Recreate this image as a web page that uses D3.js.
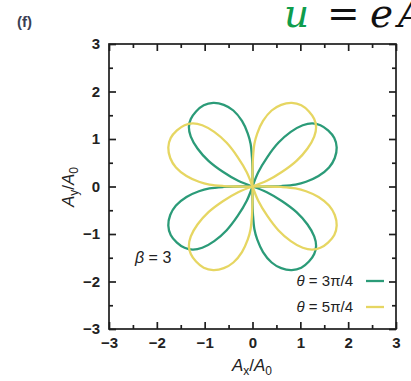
<!DOCTYPE html>
<html>
<head>
<meta charset="utf-8">
<script src="https://cdn.jsdelivr.net/npm/d3@7"></script>
<style>
  html, body { margin: 0; padding: 0; background: #fff; }
  svg { display: block; }
  text { font-family: "Liberation Sans", Arial, sans-serif; }
</style>
</head>
<body>
<svg id="chart" width="411" height="381"></svg>
<script>
// Axis ticks and labels
const majorTicks = [-3, -2, -1, 0, 1, 2, 3];
const majorTickLabels = ["\u22123", "\u22122", "\u22121", "0", "1", "2", "3"];
const minorTicks = [-2.5, -1.5, -0.5, 0.5, 1.5, 2.5];

// Series legend: angle value and colour
const seriesAngles = ["3\u03c0/4", "5\u03c0/4"];
const seriesColors = ["#2b9b78", "#e6d662"];

// theta = 3pi/4 : four lobes, each [Ax/A0, Ay/A0] from the origin round and back
const greenLobeUpperLeft = [
  [0, 0], [0.00, 0.30], [-0.01, 0.60], [-0.04, 0.90], [-0.10, 1.12], [-0.22, 1.38],
  [-0.40, 1.60], [-0.60, 1.72], [-0.82, 1.76], [-1.02, 1.71], [-1.18, 1.58],
  [-1.29, 1.42], [-1.33, 1.25], [-1.29, 1.05], [-1.15, 0.80], [-0.92, 0.54],
  [-0.62, 0.31], [-0.30, 0.12], [0, 0]
];
const greenLobeUpperRight = [
  [0, 0], [0.30, 0.00], [0.60, 0.01], [0.90, 0.04], [1.12, 0.10], [1.38, 0.22],
  [1.60, 0.40], [1.72, 0.60], [1.76, 0.82], [1.71, 1.02], [1.58, 1.18],
  [1.42, 1.29], [1.25, 1.33], [1.05, 1.29], [0.80, 1.15], [0.54, 0.92],
  [0.31, 0.62], [0.12, 0.30], [0, 0]
];
const greenLobeLowerRight = [
  [0, 0], [0.00, -0.30], [0.01, -0.60], [0.04, -0.90], [0.10, -1.12], [0.22, -1.38],
  [0.40, -1.60], [0.60, -1.72], [0.82, -1.76], [1.02, -1.71], [1.18, -1.58],
  [1.29, -1.42], [1.33, -1.25], [1.29, -1.05], [1.15, -0.80], [0.92, -0.54],
  [0.62, -0.31], [0.30, -0.12], [0, 0]
];
const greenLobeLowerLeft = [
  [0, 0], [-0.30, 0.00], [-0.60, -0.01], [-0.90, -0.04], [-1.12, -0.10], [-1.38, -0.22],
  [-1.60, -0.40], [-1.72, -0.60], [-1.76, -0.82], [-1.71, -1.02], [-1.58, -1.18],
  [-1.42, -1.29], [-1.25, -1.33], [-1.05, -1.29], [-0.80, -1.15], [-0.54, -0.92],
  [-0.31, -0.62], [-0.12, -0.30], [0, 0]
];

// theta = 5pi/4 : four lobes
const yellowLobeUpperRight = [
  [0, 0], [0.00, 0.30], [0.01, 0.60], [0.04, 0.90], [0.10, 1.12], [0.22, 1.38],
  [0.40, 1.60], [0.60, 1.72], [0.82, 1.76], [1.02, 1.71], [1.18, 1.58],
  [1.29, 1.42], [1.33, 1.25], [1.29, 1.05], [1.15, 0.80], [0.92, 0.54],
  [0.62, 0.31], [0.30, 0.12], [0, 0]
];
const yellowLobeUpperLeft = [
  [0, 0], [-0.30, 0.00], [-0.60, 0.01], [-0.90, 0.04], [-1.12, 0.10], [-1.38, 0.22],
  [-1.60, 0.40], [-1.72, 0.60], [-1.76, 0.82], [-1.71, 1.02], [-1.58, 1.18],
  [-1.42, 1.29], [-1.25, 1.33], [-1.05, 1.29], [-0.80, 1.15], [-0.54, 0.92],
  [-0.31, 0.62], [-0.12, 0.30], [0, 0]
];
const yellowLobeLowerLeft = [
  [0, 0], [0.00, -0.30], [-0.01, -0.60], [-0.04, -0.90], [-0.10, -1.12], [-0.22, -1.38],
  [-0.40, -1.60], [-0.60, -1.72], [-0.82, -1.76], [-1.02, -1.71], [-1.18, -1.58],
  [-1.29, -1.42], [-1.33, -1.25], [-1.29, -1.05], [-1.15, -0.80], [-0.92, -0.54],
  [-0.62, -0.31], [-0.30, -0.12], [0, 0]
];
const yellowLobeLowerRight = [
  [0, 0], [0.30, 0.00], [0.60, -0.01], [0.90, -0.04], [1.12, -0.10], [1.38, -0.22],
  [1.60, -0.40], [1.72, -0.60], [1.76, -0.82], [1.71, -1.02], [1.58, -1.18],
  [1.42, -1.29], [1.25, -1.33], [1.05, -1.29], [0.80, -1.15], [0.54, -0.92],
  [0.31, -0.62], [0.12, -0.30], [0, 0]
];

const series = [
  { angle: seriesAngles[0], color: seriesColors[0],
    lobes: [greenLobeUpperLeft, greenLobeUpperRight, greenLobeLowerRight, greenLobeLowerLeft] },
  { angle: seriesAngles[1], color: seriesColors[1],
    lobes: [yellowLobeUpperRight, yellowLobeUpperLeft, yellowLobeLowerLeft, yellowLobeLowerRight] }
];

const svg = d3.select("#chart");
const plot = { left: 109, right: 396, top: 44, bottom: 329 };

const x = d3.scaleLinear().domain([-3, 3]).range([plot.left, plot.right]);
const y = d3.scaleLinear().domain([-3, 3]).range([plot.bottom, plot.top]);

const axisColor = "#1e1e1e";
const labelFmt = (d) => majorTickLabels[majorTicks.indexOf(d)];

function styleAxis(g) {
  g.select(".domain").remove();
  g.selectAll(".tick line").attr("stroke", axisColor).attr("stroke-width", 1.7);
  g.selectAll(".tick text")
    .attr("fill", "#222")
    .style("font-size", "15px")
    .style("font-weight", "bold");
}

// Major ticks with labels (bottom, left), pointing inward
svg.append("g").attr("transform", `translate(0,${plot.bottom})`)
  .call(d3.axisBottom(x).tickValues(majorTicks).tickFormat(labelFmt).tickSize(-7).tickPadding(8))
  .call(styleAxis);
svg.append("g").attr("transform", `translate(${plot.left},0)`)
  .call(d3.axisLeft(y).tickValues(majorTicks).tickFormat(labelFmt).tickSize(-7).tickPadding(9))
  .call(styleAxis);
// Mirrored major ticks (top, right)
svg.append("g").attr("transform", `translate(0,${plot.top})`)
  .call(d3.axisTop(x).tickValues(majorTicks).tickFormat("").tickSize(-7))
  .call(styleAxis);
svg.append("g").attr("transform", `translate(${plot.right},0)`)
  .call(d3.axisRight(y).tickValues(majorTicks).tickFormat("").tickSize(-7))
  .call(styleAxis);
// Minor ticks on all four sides
svg.append("g").attr("transform", `translate(0,${plot.bottom})`)
  .call(d3.axisBottom(x).tickValues(minorTicks).tickFormat("").tickSize(-4)).call(styleAxis);
svg.append("g").attr("transform", `translate(0,${plot.top})`)
  .call(d3.axisTop(x).tickValues(minorTicks).tickFormat("").tickSize(-4)).call(styleAxis);
svg.append("g").attr("transform", `translate(${plot.left},0)`)
  .call(d3.axisLeft(y).tickValues(minorTicks).tickFormat("").tickSize(-4)).call(styleAxis);
svg.append("g").attr("transform", `translate(${plot.right},0)`)
  .call(d3.axisRight(y).tickValues(minorTicks).tickFormat("").tickSize(-4)).call(styleAxis);

// Frame
svg.append("rect")
  .attr("x", plot.left).attr("y", plot.top)
  .attr("width", plot.right - plot.left).attr("height", plot.bottom - plot.top)
  .attr("fill", "none").attr("stroke", axisColor).attr("stroke-width", 1.7);

// Curves
const line = d3.line()
  .x((d) => x(d[0]))
  .y((d) => y(d[1]))
  .curve(d3.curveCatmullRom.alpha(0.5));

series.forEach((s) => {
  svg.append("g").selectAll("path")
    .data(s.lobes)
    .join("path")
    .attr("d", line)
    .attr("fill", "none")
    .attr("stroke", s.color)
    .attr("stroke-width", 2.3);
});

// Legend
const legendRows = [281, 307];
series.forEach((s, i) => {
  const t = svg.append("text")
    .attr("x", 353).attr("y", legendRows[i] + 5)
    .attr("text-anchor", "end")
    .attr("fill", "#222")
    .style("font-size", "15px");
  t.append("tspan").style("font-style", "italic").text("\u03b8");
  t.append("tspan").text(" = " + s.angle);
  svg.append("line")
    .attr("x1", 366).attr("x2", 384)
    .attr("y1", legendRows[i]).attr("y2", legendRows[i])
    .attr("stroke", s.color).attr("stroke-width", 2.3);
});

// Parameter label
const beta = svg.append("text")
  .attr("x", 135).attr("y", 263)
  .attr("fill", "#222")
  .style("font-size", "16px");
beta.append("tspan").style("font-style", "italic").text("\u03b2");
beta.append("tspan").text(" = 3");

// Axis titles
const xTitle = svg.append("text")
  .attr("x", 252).attr("y", 371)
  .attr("text-anchor", "middle")
  .attr("fill", "#222")
  .style("font-size", "17px");
xTitle.append("tspan").style("font-style", "italic").text("A");
xTitle.append("tspan").attr("dy", 4).style("font-size", "12px").text("x");
xTitle.append("tspan").attr("dy", -4).text("/");
xTitle.append("tspan").style("font-style", "italic").text("A");
xTitle.append("tspan").attr("dy", 4).style("font-size", "12px").text("0");

const yTitle = svg.append("text")
  .attr("transform", "translate(74,187) rotate(-90)")
  .attr("text-anchor", "middle")
  .attr("fill", "#222")
  .style("font-size", "17px");
yTitle.append("tspan").style("font-style", "italic").text("A");
yTitle.append("tspan").attr("dy", 4).style("font-size", "12px").text("y");
yTitle.append("tspan").attr("dy", -4).text("/");
yTitle.append("tspan").style("font-style", "italic").text("A");
yTitle.append("tspan").attr("dy", 4).style("font-size", "12px").text("0");

// Panel tag
svg.append("text")
  .attr("x", 17).attr("y", 27)
  .attr("fill", "#3a3f55")
  .style("font-size", "15px")
  .style("font-weight", "bold")
  .text("(f)");

// Heading equation
const eq = svg.append("text")
  .attr("y", 27)
  .style("font-family", "'DejaVu Serif', serif")
  .style("font-size", "39px");
eq.append("tspan").attr("x", 284).attr("fill", "#0f9d4c").style("font-style", "italic").text("u");
eq.append("tspan").attr("x", 327).attr("fill", "#111").text("=");
eq.append("tspan").attr("x", 370).attr("fill", "#111").style("font-style", "italic").text("e");
eq.append("tspan").attr("x", 398).attr("fill", "#111").style("font-style", "italic").text("A");
</script>
</body>
</html>
